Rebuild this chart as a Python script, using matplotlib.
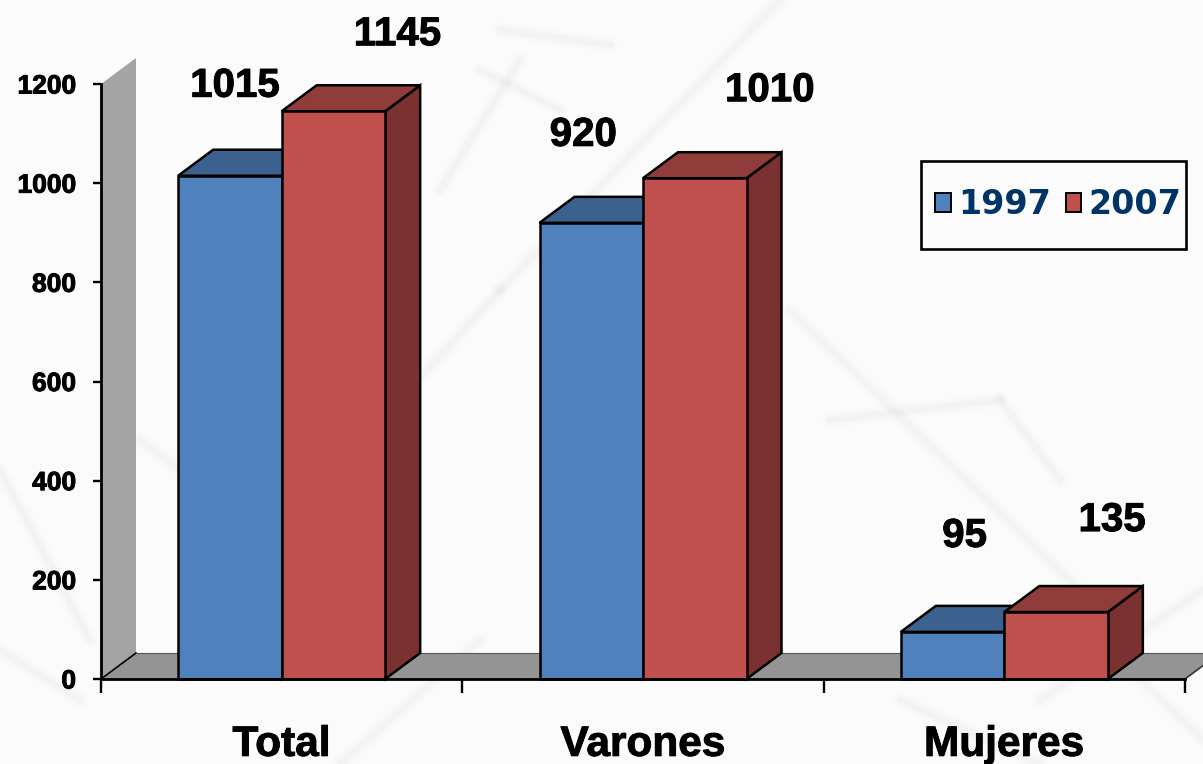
import matplotlib
matplotlib.use("Agg")
import matplotlib.pyplot as plt
from matplotlib.lines import Line2D
from matplotlib.patches import Polygon, Rectangle, Patch
import matplotlib.patheffects as pe

categories = ["Total", "Varones", "Mujeres"]
series_names = ["1997", "2007"]
values_1997 = [1015, 920, 95]
values_2007 = [1145, 1010, 135]
y_ticks = [0, 200, 400, 600, 800, 1000, 1200]

W, H = 1203, 764
BG = "#fbfbfb"
plt.rcParams["font.family"] = ["Liberation Sans", "DejaVu Sans"]
fig = plt.figure(figsize=(W / 100, H / 100), dpi=100, facecolor=BG)

# faded backdrop strokes (figure pixels, decoration only)
strokes = [
    [(440, 190), (520, 60)], [(480, 70), (560, 110)], [(500, 30), (610, 45)],
    [(400, 400), (500, 290)], [(500, 290), (780, 0)], [(790, 310), (1080, 590)],
    [(830, 420), (1000, 400)], [(1000, 400), (1060, 480)], [(0, 470), (90, 640)],
    [(140, 440), (300, 560)], [(0, 650), (80, 700)], [(1040, 700), (1203, 590)],
    [(900, 700), (1040, 764)], [(1100, 640), (1203, 740)], [(340, 764), (480, 640)],
]
for s in strokes:
    xs = [p[0] / W for p in s]
    ys = [1 - p[1] / H for p in s]
    for lw, a in [(11, 0.012), (7, 0.014), (4, 0.016)]:
        fig.add_artist(Line2D(xs, ys, color="#707070", lw=lw, alpha=a, zorder=0,
                              solid_capstyle="round"))

left, right, base, top = 101, 1185, 679, 84
ax = fig.add_axes([left / W, 1 - base / H, (right - left) / W, (base - top) / H])
ax.patch.set_alpha(0)
ax.set_xlim(0, 3)
ax.set_ylim(0, 1200)

px_x = 3 / (right - left)
px_y = 1200 / (base - top)
dx, dy = 35 * px_x, 26 * px_y
bar_w = 103.5 * px_x

# wall and floor
ax.add_patch(Polygon([(0, 0), (dx, dy), (dx, 1200 + dy), (0, 1200)], fc="#a4a4a4", ec="none",
                     clip_on=False, zorder=1))
ax.add_patch(Polygon([(0, 0), (dx, dy), (3 + dx, dy), (3, 0)], fc="#949494", ec="none",
                     clip_on=False, zorder=1))
ax.plot([0, dx], [0, dy], color="black", lw=1.2, clip_on=False, zorder=1.5)
ax.plot([dx, 3 + dx], [dy, dy], color="#555555", lw=0.8, clip_on=False, zorder=1.5)
ax.plot([3, 3 + dx], [0, dy], color="#333333", lw=1.2, clip_on=False, zorder=1.5)

styles = [("#4f81bd", "#3c618e", "#2f4d71"), ("#c0504d", "#8f3c3a", "#7a312f")]
all_series = [values_1997, values_2007]
EDGE = 1.8
for s, (vals, (front, roof, side)) in enumerate(zip(all_series, styles)):
    z = 2 + s
    offs = -bar_w if s == 0 else 0
    for i, v in enumerate(vals):
        x0 = i + 0.5 + offs
        x1 = x0 + bar_w
        ax.add_patch(Polygon([(x1, 0), (x1 + dx, dy), (x1 + dx, v + dy), (x1, v)], fc=side,
                             ec="black", lw=EDGE, zorder=z, clip_on=False))
        ax.add_patch(Polygon([(x0, v), (x0 + dx, v + dy), (x1 + dx, v + dy), (x1, v)], fc=roof,
                             ec="black", lw=EDGE, zorder=z, clip_on=False))
    ax.bar([i + 0.5 + offs for i in range(3)], vals, width=bar_w, align="edge", color=front,
           edgecolor="black", linewidth=EDGE, zorder=z + 0.5, clip_on=False)

# slightly heavier glyphs, as in the reference
heavy = [pe.withStroke(linewidth=0.7, foreground="black")]

# value labels: offsets from each bar's top centre, in pixels
label_offsets = [[(5, 90), (-8, 88), (12, 96)], [(64, 77), (75, 88), (56, 92)]]
for s, vals in enumerate(all_series):
    offs = -bar_w / 2 if s == 0 else bar_w / 2
    for i, v in enumerate(vals):
        ox, oy = label_offsets[s][i]
        ax.annotate(str(v), (i + 0.5 + offs, v), xytext=(ox * 0.72, oy * 0.72),
                    textcoords="offset points", ha="center", va="center",
                    fontsize=29, fontweight="bold", color="black", zorder=6,
                    annotation_clip=False, path_effects=heavy)

# axes
for k in ("top", "right"):
    ax.spines[k].set_visible(False)
for k in ("left", "bottom"):
    ax.spines[k].set_linewidth(2.0)
    ax.spines[k].set_zorder(5)
ax.set_yticks(y_ticks)
ax.set_yticklabels([str(t) for t in y_ticks], fontsize=19, fontweight="bold", path_effects=heavy)
ax.tick_params(axis="y", length=6, width=1.7, pad=12)
ax.set_xticks(range(4))
ax.set_xticklabels([])
ax.tick_params(axis="x", which="major", length=10, width=1.7)
ax.set_xticks([i + 0.5 for i in range(3)], minor=True)
ax.set_xticklabels(categories, minor=True, fontsize=30.5, fontweight="bold", path_effects=heavy)
ax.tick_params(axis="x", which="minor", length=0, pad=33)

# legend
fig.add_artist(Rectangle((921 / W, 1 - 249 / H), 265 / W, 88 / H, fc=BG, ec="black", lw=1.9,
                         transform=fig.transFigure, zorder=7))
handles = [Patch(fc=styles[i][0], ec="black", lw=1.4) for i in range(2)]
leg = fig.legend(handles, series_names, loc="center", bbox_to_anchor=(1058.5 / W, 1 - 205 / H),
                 ncols=2, frameon=False, handlelength=0.46, handleheight=0.5,
                 handletextpad=0.24, columnspacing=0.42, borderpad=0, borderaxespad=0,
                 prop={"family": "DejaVu Sans", "weight": "bold", "size": 24})
leg.set_zorder(8)
for t in leg.get_texts():
    t.set_color("#003366")

fig.savefig("out.png", dpi=100, facecolor=BG)
